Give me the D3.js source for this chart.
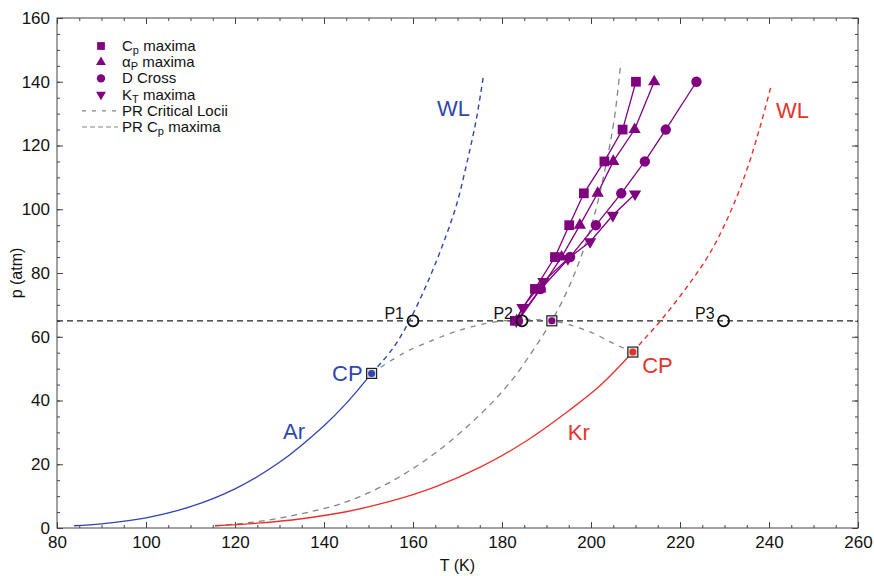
<!DOCTYPE html>
<html><head><meta charset="utf-8">
<script src="https://cdn.jsdelivr.net/npm/d3@7"></script>
<style>body{margin:0;background:#fff;} svg{font-family:"Liberation Sans",Arial,sans-serif;}</style>
</head><body><svg id="c" width="874" height="576"></svg>
<script>
// ---- data ----
const arT = [83.8, 90, 100, 110, 120, 130, 140, 145, 150.7];
const arP = [0.7, 1.3, 3.2, 6.7, 12.3, 20.6, 32.1, 39.1, 48.5];
const arWLT = [150.7, 155.6, 159.3, 163.1, 166.8, 169.8, 172.1, 174.2, 175.8];
const arWLP = [48.5, 56.6, 65.3, 76.5, 89.3, 101.5, 114.5, 128, 141.6];
const krT = [115.5, 125, 135, 145, 155, 165, 175, 185, 195, 202, 209.4];
const krP = [0.7, 1.5, 2.9, 5.1, 8.4, 12.9, 19.0, 26.9, 36.8, 44.6, 55.2];
const krWLT = [209.4, 211.8, 215.5, 221.5, 226.7, 231.2, 235, 238, 240.4];
const krWLP = [55.2, 59, 64.8, 75.5, 86.2, 98.7, 112.3, 125.9, 138.3];
const critT = [150.7, 157.8, 164.6, 170.6, 176.6, 182, 187, 191.2, 195.3, 200.5, 205, 209.4];
const critP = [48.5, 54.8, 59, 62.1, 64.2, 65.2, 65.4, 65, 63.7, 61.1, 57.9, 55.2];
const cpmT = [115.5, 125, 135, 145, 155, 165, 175, 182, 187, 191.2, 195, 198.5, 201.3, 203.5, 205.2, 206.7];
const cpmP = [0.7, 2.0, 4.5, 8.2, 14.5, 23.5, 35.5, 46, 55.8, 65, 75.5, 88, 101, 115, 128, 146];
const cpMaxT = [182.9, 187.4, 191.9, 195.1, 198.4, 203.0, 207.1, 210.1];
const cpMaxP = [65, 75, 85, 95, 105, 115, 125, 140];
const aMaxT = [183.3, 188.6, 193.4, 197.5, 201.5, 205.0, 209.8, 214.2];
const aMaxP = [65, 75, 85, 95, 105, 115, 125, 140];
const dT = [183.6, 188.7, 195.3, 201.1, 206.8, 212.1, 216.8, 223.7];
const dP = [65, 75, 85, 95, 105, 115, 125, 140];
const ktT = [183.2, 184.6, 189.3, 194.8, 199.8, 204.9, 209.9];
const ktP = [65, 69.2, 77.3, 84.5, 89.8, 98.1, 104.8];
const critPts = [{T:150.7,p:48.5,c:"#2f45b0"},{T:191.2,p:65,c:"#800080"},{T:209.4,p:55.2,c:"#e8312b"}];
const openPts = [{T:160,p:65,l:"P1"},{T:184.5,p:65,l:"P2"},{T:229.8,p:65,l:"P3"}];
const xTicks = [80,100,120,140,160,180,200,220,240,260];
const yTicks = [0,20,40,60,80,100,120,140,160];

// ---- layout ----
const svg = d3.select("#c");
const L=57, R=858, T0=18, B=528;
const x = d3.scaleLinear().domain([80,260]).range([L,R]);
const y = d3.scaleLinear().domain([0,160]).range([B,T0]);
const blue="#2f45b0", red="#e8312b", purple="#800080", gray="#858585";
const zip=(a,b)=>a.map((v,i)=>[v,b[i]]);

const ax = (g, axis)=>{ g.call(axis); g.select(".domain").remove(); g.selectAll("line").attr("stroke","#444"); g.selectAll("text").attr("font-size",17).attr("fill","#111").attr("font-family","Liberation Sans, Arial, sans-serif"); };
const xMinor = d3.range(80,261,5), yMinor = d3.range(0,161,5);
svg.append("g").attr("transform",`translate(0,${B})`).call(g=>ax(g,d3.axisBottom(x).tickValues(xMinor).tickSize(-3).tickFormat("")));
svg.append("g").attr("transform",`translate(0,${B})`).call(g=>ax(g,d3.axisBottom(x).tickValues(xTicks).tickSize(-6).tickPadding(8).tickFormat(d3.format("d"))));
svg.append("g").attr("transform",`translate(0,${T0})`).call(g=>ax(g,d3.axisTop(x).tickValues(xMinor).tickSize(-3).tickFormat("")));
svg.append("g").attr("transform",`translate(0,${T0})`).call(g=>ax(g,d3.axisTop(x).tickValues(xTicks).tickSize(-6).tickFormat("")));
svg.append("g").attr("transform",`translate(${L},0)`).call(g=>ax(g,d3.axisLeft(y).tickValues(yMinor).tickSize(-3).tickFormat("")));
svg.append("g").attr("transform",`translate(${L},0)`).call(g=>ax(g,d3.axisLeft(y).tickValues(yTicks).tickSize(-6).tickPadding(7).tickFormat(d3.format("d"))));
svg.append("g").attr("transform",`translate(${R},0)`).call(g=>ax(g,d3.axisRight(y).tickValues(yMinor).tickSize(-3).tickFormat("")));
svg.append("g").attr("transform",`translate(${R},0)`).call(g=>ax(g,d3.axisRight(y).tickValues(yTicks).tickSize(-6).tickFormat("")));
svg.append("rect").attr("x",L).attr("y",T0).attr("width",R-L).attr("height",B-T0).attr("fill","none").attr("stroke","#444").attr("stroke-width",1);

svg.append("text").attr("x",(L+R)/2).attr("y",571).attr("text-anchor","middle").attr("font-size",16).attr("fill","#111").text("T (K)");
svg.append("text").attr("transform",`translate(22,${(T0+B)/2}) rotate(-90)`).attr("text-anchor","middle").attr("font-size",16).attr("fill","#111").text("p (atm)");

const line = d3.line().x(d=>x(d[0])).y(d=>y(d[1])).curve(d3.curveCatmullRom.alpha(0.5));
const lin = d3.line().x(d=>x(d[0])).y(d=>y(d[1]));
const path=(data,gen,col,dash,w)=>svg.append("path").attr("d",gen(data)).attr("fill","none").attr("stroke",col).attr("stroke-width",w||1.3).attr("stroke-dasharray",dash||null);

svg.append("line").attr("x1",L).attr("x2",R).attr("y1",y(65)).attr("y2",y(65)).attr("stroke","#222").attr("stroke-width",1.2).attr("stroke-dasharray","6,4");

path(zip(critT,critP),line,gray,"5,6",1.3);
path(zip(cpmT,cpmP),line,gray,"6,5",1.3);
path(zip(arT,arP),line,blue,null,1.3);
path(zip(arWLT,arWLP),line,blue,"5,4",1.4);
path(zip(krT,krP),line,red,null,1.3);
path(zip(krWLT,krWLP),line,red,"5,4",1.4);

const sym = {sq:d3.symbolSquare, tu:d3.symbolTriangle, ci:d3.symbolCircle};
const series=[{T:cpMaxT,p:cpMaxP,s:"sq",size:95,rot:0},{T:aMaxT,p:aMaxP,s:"tu",size:65,rot:0},{T:dT,p:dP,s:"ci",size:85,rot:0},{T:ktT,p:ktP,s:"tu",size:65,rot:180}];
series.forEach(se=>{
  path(zip(se.T,se.p),lin,purple,null,1.3);
  svg.append("g").selectAll("path").data(zip(se.T,se.p)).join("path")
    .attr("transform",d=>`translate(${x(d[0])},${y(d[1])}) rotate(${se.rot})`)
    .attr("d",d3.symbol().type(sym[se.s]).size(se.size)).attr("fill",purple);
});

critPts.forEach(d=>{
  svg.append("rect").attr("x",x(d.T)-5).attr("y",y(d.p)-5).attr("width",10).attr("height",10).attr("fill","#ddd").attr("stroke","#222").attr("stroke-width",1.2);
  svg.append("circle").attr("cx",x(d.T)).attr("cy",y(d.p)).attr("r",3.5).attr("fill",d.c);
});
openPts.forEach(d=>{
  svg.append("circle").attr("cx",x(d.T)).attr("cy",y(d.p)).attr("r",5.5).attr("fill","none").attr("stroke","#111").attr("stroke-width",1.8);
  svg.append("text").attr("x",x(d.T)-9).attr("y",y(d.p)-2).attr("text-anchor","end").attr("font-size",16).attr("fill","#111").text(d.l);
});

const ann=(t,xx,yy,c)=>svg.append("text").attr("x",xx).attr("y",yy).attr("font-size",22).attr("fill",c).text(t);
ann("WL",x(165.4),y(129.3),blue); ann("WL",x(241.6),y(128.6),red);
ann("CP",x(141.8),y(46.1),blue); ann("CP",x(211.5),y(48.6),red);
ann("Ar",x(130.8),y(27.9),blue); ann("Kr",x(194.8),y(27.6),red);

const lg = svg.append("g");
const lx=101, ly0=46, dy=16.2;
const legItems=[
  {m:"sq",rot:0,size:60,main:"C",sub:"p",rest:" maxima"},
  {m:"tu",rot:0,size:42,main:"α",sub:"P",rest:" maxima"},
  {m:"ci",rot:0,size:55,main:"D Cross",sub:"",rest:""},
  {m:"tu",rot:180,size:42,main:"K",sub:"T",rest:" maxima"},
  {dash:"4,6",main:"PR Critical Locii",sub:"",rest:""},
  {dash:"5,3",main:"PR C",sub:"p",rest:" maxima"}];
legItems.forEach((it,i)=>{
  const yy=ly0+i*dy;
  if(it.m){ lg.append("path").attr("transform",`translate(${lx},${yy}) rotate(${it.rot})`).attr("d",d3.symbol().type(sym[it.m]).size(it.size)).attr("fill",purple); }
  else { lg.append("line").attr("x1",82).attr("x2",118).attr("y1",yy).attr("y2",yy).attr("stroke",gray).attr("stroke-width",1.2).attr("stroke-dasharray",it.dash); }
  const t=lg.append("text").attr("x",122).attr("y",yy+5).attr("font-size",15).attr("fill","#111");
  t.append("tspan").text(it.main);
  if(it.sub){ t.append("tspan").attr("dy",3).attr("font-size",11).text(it.sub); t.append("tspan").attr("dy",-3).text(it.rest); }
});
</script></body></html>
